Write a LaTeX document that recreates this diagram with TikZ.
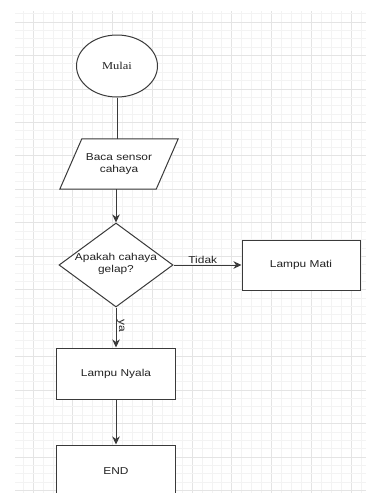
\documentclass[tikz,border=0pt]{standalone}
\usepackage{fontspec}
\setmainfont{Liberation Sans}[FakeStretch=1.19]
\newfontfamily\serifx{Liberation Serif}[FakeStretch=1.19]
\usetikzlibrary{shapes.geometric,arrows.meta}
\definecolor{ink}{HTML}{3A3A3A}
\definecolor{txt}{HTML}{222222}
\definecolor{gmajor}{HTML}{E4E4E4}
\definecolor{gminor}{HTML}{F3F3F3}
\begin{document}
\begin{tikzpicture}[x=1pt,y=-1pt,
  shp/.style={draw=ink, line width=1pt, fill=white, text=txt, inner sep=0pt},
  box/.style={shp, rectangle, minimum width=119pt, minimum height=51pt},
  lbl/.style={text=txt, font=\fontsize{10}{12.5}\selectfont, align=center, inner sep=1pt},
  conn/.style={draw=ink, line width=1pt},
  arr/.style={conn, -{Stealth[length=8pt,width=7.5pt,inset=2.5pt]}}]
\useasboundingbox (0,0) rectangle (366,493);
\fill[white] (0,0) rectangle (366,493);
% grid
\begin{scope}
\clip (15,11) rectangle (366,493);
\foreach \i in {-2,...,34} {
  \pgfmathsetmacro{\xx}{33+\i*9.9375}
  \pgfmathtruncatemacro{\mm}{mod(\i+8,4)}
  \ifnum\mm=0 \draw[gmajor, line width=0.8pt] (\xx,0) -- (\xx,493);
  \else \draw[gminor, line width=0.7pt] (\xx,0) -- (\xx,493); \fi
}
\foreach \j in {-2,...,58} {
  \pgfmathsetmacro{\yy}{22+\j*8.365}
  \pgfmathtruncatemacro{\mm}{mod(\j+8,4)}
  \ifnum\mm=0 \draw[gmajor, line width=0.8pt] (0,\yy) -- (366,\yy);
  \else \draw[gminor, line width=0.7pt] (0,\yy) -- (366,\yy); \fi
}
\end{scope}
% nodes
\node[shp, ellipse, minimum width=81pt, minimum height=62pt, font=\serifx\fontsize{10.5}{12}\selectfont] (mulai) at (117,66) {Mulai};
\node[inner sep=0pt, minimum width=96pt, minimum height=50pt] (baca) at (119,164) {};
\draw[shp] ([xshift=11pt]baca.north west) -- ([xshift=11pt]baca.north east)
  -- ([xshift=-11pt]baca.south east) -- ([xshift=-11pt]baca.south west) -- cycle;
\node[lbl] at (baca.center) {Baca sensor\\cahaya};
\node[shp, diamond, minimum width=114pt, minimum height=84pt] (dia) at (116,265) {};
\node[lbl] at ([yshift=1pt]dia.center) {Apakah cahaya\\gelap?};
\node[box, minimum width=118pt, minimum height=50pt] (mati) at (301,265) {};
\node[lbl] at (mati.center) {Lampu Mati};
\node[box] (nyala) at (116,373.5) {};
\node[lbl] at (nyala.center) {Lampu Nyala};
\node[box] (end) at (116,470.5) {};
\node[lbl] at ([yshift=-1pt]end.center) {END};
% connectors
\draw[conn] (mulai.south) -- (mulai.south |- baca.north);
\draw[arr] (dia.north |- baca.south) -- (dia.north);
\draw[arr] (dia.east) -- node[lbl, pos=0.43, above, inner sep=0.5pt] {Tidak} (mati.west);
\draw[arr] (dia.south) -- node[lbl, pos=0.45, rotate=-90, anchor=south, inner sep=0.5pt] {ya} (nyala.north);
\draw[arr] (nyala.south) -- (end.north);
\end{tikzpicture}
\end{document}
